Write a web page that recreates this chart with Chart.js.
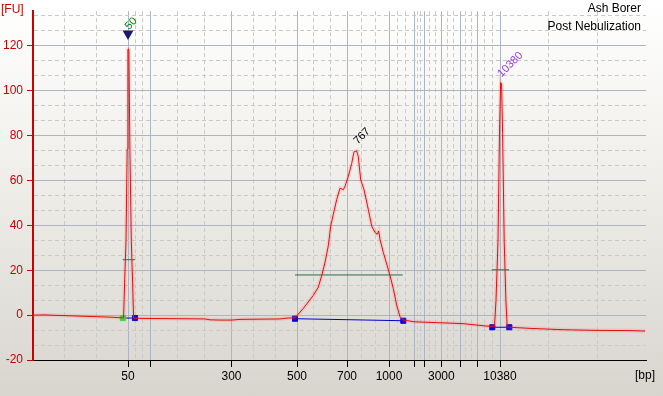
<!DOCTYPE html>
<html><head><meta charset="utf-8">
<script src="https://cdn.jsdelivr.net/npm/chart.js@4.4.1/dist/chart.umd.min.js"></script>
<style>
html,body{margin:0;padding:0;}
body{width:663px;height:396px;overflow:hidden;background:linear-gradient(to bottom,#ffffff 0%,#efeeea 45%,#d8d5ce 100%);}
#wrap{position:relative;width:663px;height:396px;}
</style></head><body>
<div id="wrap"><canvas id="c" width="663" height="396"></canvas></div>
<script>
// migration time (s) and fluorescence (FU) of the trace
const timeSec = [19.0,20.2,20.7,22.7,24.7,26.7,27.95,
  28.06,28.16,28.30,28.42,28.49,28.59,28.69,28.83,28.96,29.06,
  29.2,30.7,33.7,36.2,36.7,37.7,38.9,39.7,41.7,43.7,44.5,45.2,
  46.03,47.03,47.53,47.87,48.2,48.53,48.77,49.03,49.37,49.7,50.03,50.2,50.53,50.87,51.1,51.37,51.53,51.77,52.1,52.53,52.87,53.2,53.43,53.57,53.7,54.03,54.37,54.7,55.03,55.37,55.7,56.03,
  57.2,59.7,62.0,64.4,
  65.15,65.3,65.5,65.65,65.76,65.86,65.96,66.12,66.29,66.42,66.63,
  68.7,72.0,75.4,78.7,80.2];
const fluorescence = [0.0,0.1,0.0,-0.3,-0.6,-0.9,-1.2,
  -1.2,14.7,33,74,118.5,118.5,74,33,14.7,-1.3,
  -1.4,-1.5,-1.6,-1.7,-2.1,-2.2,-2.2,-1.9,-1.8,-1.7,-1.3,-1.2,
  3.0,8.8,12.5,17.6,23.5,30.9,39.7,44.9,51.5,56.6,55.9,57.4,61.8,67.6,72.8,73.2,70.6,60.3,55.9,47.1,39.7,36.8,36.0,37.5,33.8,27.9,22.8,17.6,11.8,4.4,-0.7,-2.2,
  -3.0,-3.4,-3.8,-4.9,
  -5.0,6.6,33,81.6,103.7,103,81,33,6.6,-5.3,-5.4,
  -5.9,-6.5,-6.8,-6.9,-7.1];

// ladder (bp) and its migration times
const ladderBp   = [50,100,300,500,700,1000,1500,2000,3000,5000,7000,10380];
const ladderTime = [28.5,30.7,38.85,45.4,50.4,54.6,57.1,58.13,59.83,61.7,63.43,65.7];
const labeledBp  = [50,300,500,700,1000,3000,10380];
const outerMinorTime = [22.13,25.37,70.57,75.47];

// peaks
const peakTime  = [28.5,51.37,65.76];
const peakLabel = ['50','767','10380'];
const peakLabelFU = [127,75.9,105.9];
const peakLabelColor = ['#008a00','#000000','#9a3adf'];
const markerTime = [28.5];
const markerFU = [125.4];
const halfStart = [27.97,45.2,64.87];
const halfEnd   = [29.2,55.97,66.6];
const halfFU    = [24.7,17.9,20.2];
const baseStart = [27.98,45.2,64.93];
const baseStartFU = [-1.3,-1.6,-5.4];
const baseEnd   = [29.2,56.03,66.63];
const baseEndFU = [-1.3,-2.5,-5.4];

const sampleName = 'Ash Borer';
const sampleNote = 'Post Nebulization';

// ---------- build ----------
const FONT = '"Liberation Sans", Arial, sans-serif';
Chart.defaults.font.family = FONT;
Chart.defaults.font.size = 12;

const trace = timeSec.map((t,i)=>({x:t,y:fluorescence[i]}));
const xMinor = [];
for (let i=0;i<ladderTime.length-1;i++){
  const a=ladderTime[i], b=ladderTime[i+1];
  xMinor.push(a+(b-a)/3, a+2*(b-a)/3);
}
const xTicks = ladderTime.map(v=>({value:v,isMajor:true}))
  .concat(xMinor.concat(outerMinorTime).map(v=>({value:v,isMajor:false})))
  .sort((p,q)=>p.value-q.value);
const yTicks = [];
for (let i=0;i<=23;i++) yTicks.push({value:-20+i*20/3,isMajor:i%3===0});

const isMaj = c => c && c.tick && c.tick.isMajor;

const datasets = [
  {data:trace, borderColor:'rgba(255,90,90,0.16)', borderWidth:4, pointRadius:0},
  {data:trace, borderColor:'#dd0000', borderWidth:1, pointRadius:0},
];
halfStart.forEach((s,i)=>datasets.push({data:[{x:s,y:halfFU[i]},{x:halfEnd[i],y:halfFU[i]}],
  borderColor:'#2a6a4c', borderWidth:1, pointRadius:0}));
baseStart.forEach((s,i)=>datasets.push({data:[{x:s,y:baseStartFU[i]},{x:baseEnd[i],y:baseEndFU[i]}],
  borderColor:'#0000d0', borderWidth:1, pointStyle:'rect', pointRadius:3.6, pointBorderWidth:1,
  pointBackgroundColor: i===0?['#33dd33','#0000e0']:'#0000e0',
  pointBorderColor: i===0?['#33dd33','#0000e0']:'#0000e0'}));
datasets.push({type:'scatter', data:markerTime.map((t,i)=>({x:t,y:markerFU[i]})),
  pointStyle:'triangle', rotation:180, pointRadius:6.3, pointBackgroundColor:'#1a1a6a', pointBorderColor:'#1a1a6a', pointBorderWidth:0});

const textPlugin = {
  id:'texts',
  afterDatasetsDraw(chart){
    const {ctx, scales:{x,y}} = chart;
    ctx.save();
    ctx.font = '11px '+FONT;
    ctx.textAlign='left'; ctx.textBaseline='alphabetic';
    peakTime.forEach((t,i)=>{
      const px = x.getPixelForValue(t)+1, py = y.getPixelForValue(peakLabelFU[i]);
      ctx.save(); ctx.translate(px,py); ctx.rotate(-Math.PI/4);
      ctx.fillStyle = peakLabelColor[i]; ctx.fillText(peakLabel[i],0,0); ctx.restore();
    });
    ctx.font = '12px '+FONT;
    ctx.fillStyle='#000'; ctx.textAlign='right';
    ctx.fillText(sampleName, 641, 12);
    ctx.fillText(sampleNote, 641, 30);
    ctx.textAlign='left';
    ctx.fillStyle='#cc0000'; ctx.fillText('[FU]', 1, 13);
    ctx.fillStyle='#000'; ctx.fillText('[bp]', 635, 379);
    ctx.restore();
  }
};

new Chart(document.getElementById('c'), {
  type:'line',
  data:{datasets},
  plugins:[textPlugin],
  options:{
    responsive:false, animation:false, devicePixelRatio:1,
    layout:{padding:{top:8,right:17,left:0,bottom:0}},
    plugins:{legend:{display:false}, tooltip:{enabled:false}},
    scales:{
      x:{type:'linear', min:19, max:80.3,
        afterBuildTicks(s){ s.ticks = xTicks.map(t=>({...t})); },
        afterFit(s){ s.height = 36; },
        ticks:{autoSkip:false, maxRotation:0, color:'#000', padding:2,
          callback(v){ const i = ladderTime.findIndex(t=>Math.abs(t-v)<1e-6);
            return (i>=0 && labeledBp.includes(ladderBp[i])) ? String(ladderBp[i]) : ''; }},
        grid:{lineWidth:1, tickLength:7,
          color: c => isMaj(c) ? '#adb5c2' : '#c9c9c9',
          tickColor: c => isMaj(c) ? '#000' : 'rgba(0,0,0,0)'},
        border:{color:'#000', width:1, dash: c => isMaj(c) || !(c && c.tick) ? [] : [4,3]}
      },
      y:{type:'linear', min:-20, max:135.46,
        afterBuildTicks(s){ s.ticks = yTicks.map(t=>({...t})); },
        afterFit(s){ s.width = 33; },
        ticks:{autoSkip:false, color:'#cc0000', padding:4,
          callback(v){ const r = v/20; return Math.abs(r-Math.round(r))<1e-6 ? String(Math.round(v)) : ''; }},
        grid:{lineWidth:1, tickLength:6,
          color: c => (c.tick && Math.abs(c.tick.value+20)<1e-6) ? 'rgba(0,0,0,0)' : (isMaj(c) ? '#adb5c2' : '#c9c9c9'),
          tickColor: c => isMaj(c) ? '#cc0000' : 'rgba(0,0,0,0)'},
        border:{color:'#cc0000', width:2, dash: c => isMaj(c) || !(c && c.tick) ? [] : [4,3]}
      }
    }
  }
});
</script>
</body></html>
